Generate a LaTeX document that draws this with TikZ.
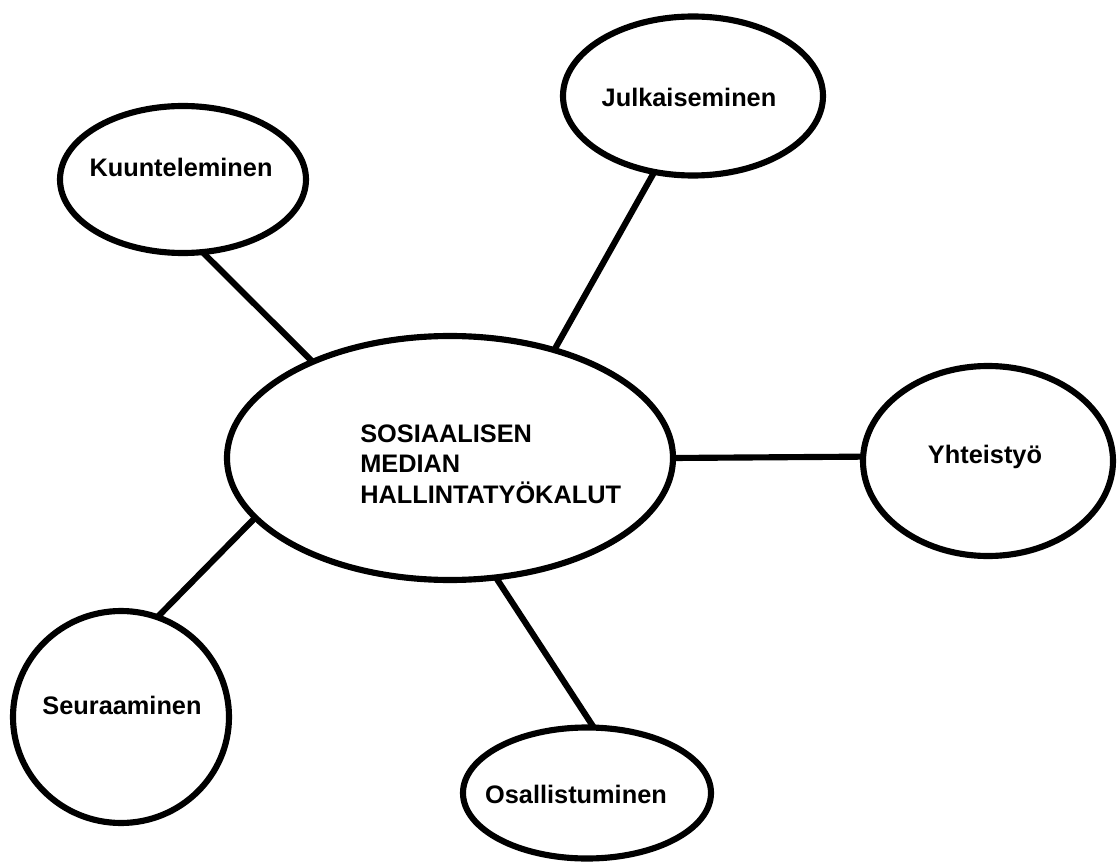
\documentclass[tikz,border=0pt]{standalone}
\usepackage{fontspec}
\setmainfont{Liberation Sans}
\usetikzlibrary{shapes.geometric}
\begin{document}
\begin{tikzpicture}[x=0.75pt,y=-0.75pt,
  bubble/.style={draw=black, line width=4.6pt, ellipse, inner sep=0pt, outer sep=0pt},
  lbl/.style={inner sep=0pt, anchor=base, font=\fontsize{19}{23}\selectfont\bfseries},
  lblw/.style={lbl, anchor=base west},
  link/.style={line width=4.6pt}]
\useasboundingbox[fill=white] (0,0) rectangle (1118,863);
% ellipses
\node[bubble, minimum width=0.75*446pt, minimum height=0.75*244pt] (c) at (450,458) {};
\node[bubble, minimum width=0.75*246pt, minimum height=0.75*147pt] (k) at (183,179.5) {};
\node[bubble, minimum width=0.75*260pt, minimum height=0.75*159pt] (j) at (693,96) {};
\node[bubble, minimum width=0.75*250pt, minimum height=0.75*190pt] (y) at (988,461) {};
\node[bubble, minimum width=0.75*216pt, minimum height=0.75*212pt] (s) at (121,717) {};
\node[bubble, minimum width=0.75*248pt, minimum height=0.75*131pt] (o) at (587,793) {};
% labels
\node[lblw] (c1) at (360,442) {SOSIAALISEN};
\node[lblw] (c2) at (360,472) {MEDIAN};
\node[lblw] (c3) at (360,503) {HALLINTATYÖKALUT};
\node[lbl] (kt) at (181,177) {Kuunteleminen};
\node[lbl] (jt) at (689,107) {Julkaiseminen};
\node[lbl] (yt) at (985,463) {Yhteistyö};
\node[lbl] (st) at (122,714) {Seuraaminen};
\node[lbl] (ot) at (576,803) {Osallistuminen};
% connectors
\draw[link] (c.145) -- (k.285);
\draw[link] (c.46.6) -- (j.243.7);
\draw[link] (c.-0.5) -- (y.178.6);
\draw[link] (c.197.8) -- (s.70);
\draw[link] (c.291) -- (o.84);
\end{tikzpicture}
\end{document}
